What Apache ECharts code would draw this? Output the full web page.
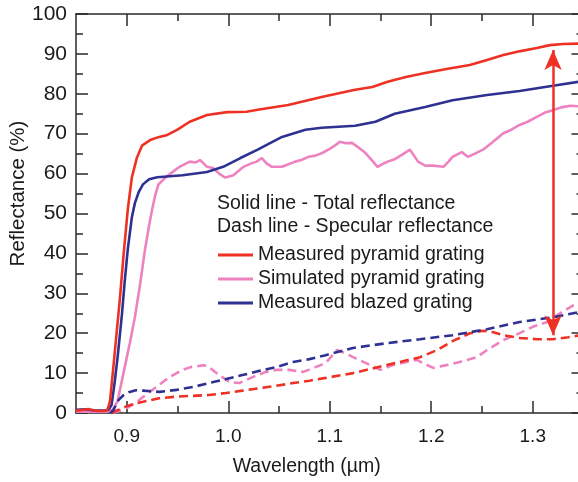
<!DOCTYPE html>
<html>
<head>
<meta charset="utf-8">
<script src="https://cdn.jsdelivr.net/npm/echarts@6/dist/echarts.min.js"></script>
<style>
html,body{margin:0;padding:0;background:#fff;}
#chart{width:578px;height:482px;}
</style>
</head>
<body>
<div id="chart"></div>
<script>
// ---- data (wavelength in µm, reflectance in %) ----
const xMajorTicks = [0.9, 1.0, 1.1, 1.2, 1.3];
const xMinorTicks = [0.95, 1.05, 1.15, 1.25];
const seriesNames = ['Measured pyramid grating', 'Simulated pyramid grating', 'Measured blazed grating'];
const headerLines = ['Solid line - Total reflectance', 'Dash line - Specular reflectance'];

const measuredPyramidTotal = [[0.850,0.6],[0.858,0.8],[0.862,1.0],[0.866,0.7],[0.872,0.5],[0.878,0.5],[0.881,0.8],[0.8835,3],[0.887,12],[0.890,20],[0.893,28],[0.897,40],[0.901,51],[0.905,59],[0.910,64],[0.915,67],[0.923,68.4],[0.932,69.2],[0.940,69.7],[0.950,71],[0.962,73],[0.979,74.7],[0.999,75.4],[1.018,75.5],[1.029,76],[1.059,77.2],[1.092,79.2],[1.125,81],[1.142,81.7],[1.157,83],[1.175,84.2],[1.194,85.2],[1.215,86.2],[1.238,87.2],[1.255,88.5],[1.271,89.7],[1.288,90.7],[1.304,91.5],[1.317,92.2],[1.330,92.5],[1.350,92.6]];

const simulatedPyramidTotal = [[0.85,0.3],[0.88,0.3],[0.886,0.8],[0.891,3],[0.898,11.5],[0.903,17.5],[0.908,24],[0.913,32],[0.918,41],[0.922,47],[0.925,51],[0.928,54.5],[0.931,57.2],[0.936,58.5],[0.943,60],[0.952,61.7],[0.962,63],[0.968,62.8],[0.972,63.4],[0.976,62.5],[0.979,61.7],[0.985,61.4],[0.991,60],[0.997,59],[1.005,59.6],[1.015,61.7],[1.022,62.5],[1.028,63],[1.033,63.9],[1.038,62.5],[1.043,61.7],[1.053,61.7],[1.06,62.4],[1.066,63],[1.072,63.4],[1.079,64.2],[1.086,64.5],[1.092,65.1],[1.1,66.2],[1.106,67.2],[1.11,68],[1.116,67.6],[1.122,67.7],[1.128,66.6],[1.135,65.2],[1.141,63.5],[1.147,61.7],[1.152,62.4],[1.157,63],[1.164,63.6],[1.171,64.7],[1.176,65.5],[1.179,66],[1.183,64.5],[1.187,63],[1.194,62],[1.202,62],[1.212,61.7],[1.217,63],[1.221,64.2],[1.23,65.4],[1.236,64.2],[1.243,65],[1.251,66],[1.26,67.8],[1.271,70.1],[1.279,71],[1.287,72.2],[1.295,73],[1.304,74.2],[1.312,75.3],[1.32,75.9],[1.328,76.6],[1.337,77],[1.35,76.8]];

const measuredBlazedTotal = [[0.85,0.8],[0.86,0.9],[0.87,0.6],[0.878,0.6],[0.882,0.8],[0.885,2],[0.888,7.5],[0.891,14],[0.895,24],[0.898,33],[0.901,41],[0.905,49],[0.908,52.6],[0.912,55.5],[0.916,57.3],[0.922,58.6],[0.93,59.1],[0.955,59.6],[0.979,60.4],[0.995,61.7],[1.012,63.9],[1.029,66],[1.053,69.2],[1.076,71],[1.092,71.5],[1.125,72],[1.145,73],[1.164,75],[1.194,76.7],[1.221,78.4],[1.255,79.7],[1.287,80.7],[1.32,82],[1.35,83.2]];

const measuredPyramidSpecular = [[0.885,0],[0.892,0.8],[0.899,1.6],[0.907,2.3],[0.916,2.8],[0.932,3.7],[0.949,4.1],[0.965,4.3],[0.981,4.5],[0.998,5],[1.014,5.6],[1.03,6.2],[1.047,6.8],[1.064,7.5],[1.08,8.1],[1.096,8.8],[1.123,10],[1.156,12],[1.189,14],[1.206,15.8],[1.221,18],[1.238,20],[1.251,20.6],[1.262,20.2],[1.271,19.5],[1.287,18.8],[1.304,18.5],[1.32,18.5],[1.335,19],[1.35,19.6]];

const simulatedPyramidSpecular = [[0.886,0],[0.894,0.6],[0.902,1.5],[0.909,2.6],[0.916,4],[0.929,6.5],[0.942,9],[0.955,10.8],[0.963,11.5],[0.971,11.8],[0.976,12],[0.981,11.5],[0.991,9.5],[1.001,7.8],[1.011,7.5],[1.024,9],[1.037,10.3],[1.047,10.8],[1.06,10.8],[1.074,10.3],[1.086,11.5],[1.096,12.5],[1.107,15.8],[1.115,15],[1.123,14],[1.14,12],[1.15,10.8],[1.162,12],[1.176,12.8],[1.186,13.3],[1.192,12.5],[1.202,11.3],[1.215,12],[1.228,12.8],[1.245,14],[1.255,15.8],[1.271,18.3],[1.287,20],[1.3,21.6],[1.314,22.8],[1.327,25],[1.34,27],[1.35,28.2]];

const measuredBlazedSpecular = [[0.884,0],[0.887,0.8],[0.892,3.3],[0.897,4.5],[0.902,5.2],[0.909,5.7],[0.916,5.6],[0.932,5.3],[0.949,5.8],[0.965,6.5],[0.981,7.5],[0.998,8.5],[1.014,9.5],[1.03,10.5],[1.047,11.5],[1.064,12.8],[1.08,13.5],[1.096,14.5],[1.123,16.3],[1.156,17.5],[1.189,18.5],[1.221,19.5],[1.255,21],[1.287,22.8],[1.32,24],[1.35,25.5]];

const arrowX = 1.32;
const arrowBottom = 19.5;
const arrowTop = 91;

// ---- styles ----
const RED = '#EE3124', PINK = '#EE82C0', BLUE = '#2E3192';
const AX = '#2a2a2a';
const FONT = "'Liberation Sans', Arial, sans-serif";

function xAxisDef(position, ticks, len, withLine, withLabels) {
  return {
    type: 'value', position: position, min: 0.85, max: 1.35, interval: 0.05,
    axisLine: { show: withLine, lineStyle: { color: AX, width: 1.5 } },
    axisTick: { show: true, inside: true, length: len, customValues: ticks, lineStyle: { color: AX, width: 1.5 } },
    axisLabel: withLabels ? { show: true, customValues: xMajorTicks, formatter: v => v.toFixed(1), fontSize: 19, color: '#1a1a1a', fontFamily: FONT, margin: 14 } : { show: false },
    splitLine: { show: false }
  };
}
function yAxisDef(position, withLabels) {
  return {
    type: 'value', position: position, min: 0, max: 100, interval: 10,
    axisLine: { show: true, lineStyle: { color: AX, width: 1.5 } },
    axisTick: { show: true, inside: true, length: 12, lineStyle: { color: AX, width: 1.5 } },
    minorTick: { show: true, splitNumber: 2, length: 7, lineStyle: { color: AX, width: 1.5 } },
    axisLabel: withLabels ? { show: true, fontSize: 21, color: '#1a1a1a', fontFamily: FONT, margin: 9 } : { show: false },
    splitLine: { show: false }, minorSplitLine: { show: false }
  };
}

const xb = xAxisDef('bottom', xMajorTicks, 12, true, true);
xb.name = 'Wavelength (µm)';
xb.nameLocation = 'middle';
xb.nameGap = 44;
xb.nameMoveOverlap = false;
xb.nameTextStyle = { fontSize: 19.5, color: '#1a1a1a', fontFamily: FONT, padding: [0, 46, 0, 0] };
const yl = yAxisDef('left', true);
yl.name = 'Reflectance (%)';
yl.nameLocation = 'middle';
yl.nameGap = 47;
yl.nameMoveOverlap = false;
yl.nameTextStyle = { fontSize: 20.5, color: '#1a1a1a', fontFamily: FONT, padding: [0, 0, 0, 40] };

function line(name, data, color, dashed, z) {
  return {
    type: 'line', name: name, data: data, symbol: 'none', smooth: false, z: z,
    lineStyle: { color: color, width: 2.6, type: dashed ? [9, 5] : 'solid' },
    itemStyle: { color: color },
    xAxisIndex: 0, yAxisIndex: 0
  };
}

const series = [
  line(seriesNames[1] + ' specular', simulatedPyramidSpecular, PINK, true, 2),
  line(seriesNames[0] + ' specular', measuredPyramidSpecular, RED, true, 3),
  line(seriesNames[2] + ' specular', measuredBlazedSpecular, BLUE, true, 3),
  line(seriesNames[1], simulatedPyramidTotal, PINK, false, 2),
  line(seriesNames[2], measuredBlazedTotal, BLUE, false, 3),
  line(seriesNames[0], measuredPyramidTotal, RED, false, 4)
];
series[5].markLine = {
  silent: true, symbol: ['arrow', 'arrow'], symbolSize: [13, 20],
  lineStyle: { color: RED, width: 2.5, type: 'solid' },
  label: { show: false },
  data: [[{ coord: [arrowX, arrowBottom] }, { coord: [arrowX, arrowTop] }]]
};

const chart = echarts.init(document.getElementById('chart'), null, { renderer: 'canvas' });
chart.setOption({
  animation: false,
  backgroundColor: '#fff',
  grid: { left: 76, top: 14, width: 507.5, height: 399, containLabel: false, outerBoundsMode: 'none' },
  xAxis: [
    xb,
    xAxisDef('bottom', xMinorTicks, 7, false, false),
    xAxisDef('top', xMajorTicks, 12, true, false),
    xAxisDef('top', xMinorTicks, 7, false, false)
  ],
  yAxis: [yl, yAxisDef('right', false)],
  legend: {
    data: seriesNames, orient: 'vertical', left: 213, top: 240, itemGap: 4,
    itemWidth: 35, itemHeight: 3, icon: 'rect', selectedMode: false,
    textStyle: { fontSize: 19.5, color: '#1a1a1a', fontFamily: FONT }
  },
  graphic: [
    { type: 'text', left: 217, top: 194, style: { text: headerLines[0], fontSize: 19.5, fontFamily: FONT, fill: '#1a1a1a' } },
    { type: 'text', left: 217, top: 217, style: { text: headerLines[1], fontSize: 19.5, fontFamily: FONT, fill: '#1a1a1a' } }
  ],
  series: series
});
</script>
</body>
</html>
